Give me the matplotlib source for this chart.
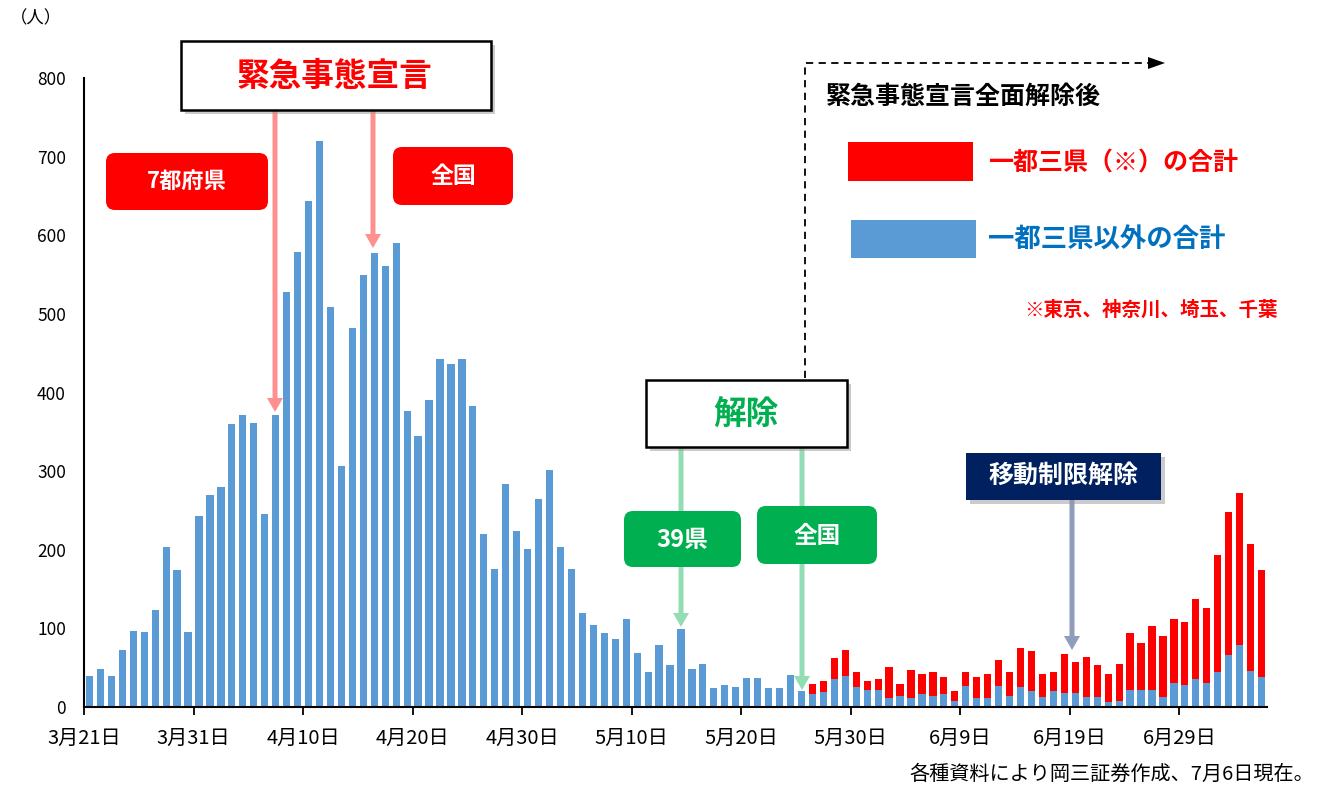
import numpy as np
import matplotlib
matplotlib.use("Agg")
import matplotlib.pyplot as plt
from matplotlib.patches import Rectangle, FancyBboxPatch, FancyArrow

plt.rcParams['font.family'] = ['Noto Sans CJK JP', 'DejaVu Sans']

# 一都三県以外の合計（5/25までは全国の合計）
others = [40, 48, 40, 73, 97, 95, 123, 203, 174, 95,
          243, 269, 280, 360, 371, 361, 245, 371, 528, 579,
          644, 720, 509, 306, 482, 550, 577, 561, 590, 376,
          345, 391, 442, 436, 442, 383, 220, 175, 283, 224,
          201, 265, 302, 203, 175, 119, 104, 94, 86, 112,
          69, 44, 79, 53, 99, 48, 55, 24, 28, 26,
          37, 37, 24, 24, 41, 20, 16, 19, 36, 40,
          25, 22, 22, 11, 14, 11, 16, 14, 16, 7,
          27, 11, 11, 27, 14, 25, 20, 13, 20, 18,
          18, 13, 13, 6, 8, 22, 22, 22, 13, 31,
          28, 35, 31, 44, 66, 79, 46, 38]
# 一都三県の合計（5/26以降）
tokyo_area = [0] * 66 + [13, 14, 26, 33,
              19, 11, 14, 40, 15, 36, 26, 30, 22, 13,
              17, 27, 31, 33, 30, 50, 51, 29, 24, 50,
              39, 50, 40, 36, 47, 72, 59, 81, 77, 81,
              80, 102, 95, 149, 182, 193, 161, 136]
tick_days = [0, 10, 20, 30, 40, 50, 60, 70, 80, 90, 100]
tick_labels = ['3月21日', '3月31日', '4月10日', '4月20日', '4月30日', '5月10日',
               '5月20日', '5月30日', '6月9日', '6月19日', '6月29日']

BLUE = '#5B9BD5'
RED = '#FF0000'
GREEN = '#00B050'
NAVY = '#002060'

W, H = 1322, 789
fig = plt.figure(figsize=(W / 100, H / 100), dpi=100)
ax = fig.add_axes([84 / W, 1 - 707 / H, (1267 - 84) / W, (707 - 78) / H])

x = np.arange(len(others))
ax.bar(x, others, width=0.66, color=BLUE, zorder=2)
ax.bar(x, tokyo_area, bottom=others, width=0.66, color=RED, zorder=2)

ax.set_xlim(-0.5, len(others) - 0.5)
ax.set_ylim(0, 800)
ax.set_yticks(range(0, 801, 100))
ax.tick_params(axis='y', length=0, pad=13, labelsize=12.5)
ax.set_xticks(np.array(tick_days) - 0.5)
ax.set_xticklabels(tick_labels)
ax.tick_params(axis='x', length=6, width=1.3, direction='out', pad=9, labelsize=14.5)
for s in ['top', 'right']:
    ax.spines[s].set_visible(False)
for s in ['left', 'bottom']:
    ax.spines[s].set_linewidth(1.5)

# 注記用のオーバーレイ（ピクセル座標）
ov = fig.add_axes([0, 0, 1, 1])
ov.set_xlim(0, W)
ov.set_ylim(H, 0)
ov.axis('off')
ov.patch.set_alpha(0)


def box(x0, y0, x1, y1, fc, ec=None, rounded=False, shadow=False):
    if shadow:
        ov.add_patch(Rectangle((x0 + 4, y0 + 4), x1 - x0, y1 - y0, fc='#999999',
                               ec='none', alpha=0.5, zorder=3))
    if rounded:
        p = FancyBboxPatch((x0, y0), x1 - x0, y1 - y0,
                           boxstyle='round,pad=0,rounding_size=9', fc=fc, ec='none', zorder=4)
    else:
        p = Rectangle((x0, y0), x1 - x0, y1 - y0, fc=fc, ec=ec or 'none', lw=1.8, zorder=4)
    ov.add_patch(p)


def arrow(xa, y0, y1, color):
    ov.add_patch(FancyArrow(xa, y0, 0, y1 - y0, width=5, head_width=16, head_length=14,
                            length_includes_head=True, color=color, lw=0, zorder=2))


# 緊急事態宣言
arrow(275, 110, 412, '#FF9090')
arrow(373, 110, 248, '#FF9090')
box(181, 41, 491, 110, 'white', ec='black', shadow=True)
ov.text(335, 76, '緊急事態宣言', color=RED, fontsize=23.5, fontweight='bold',
        ha='center', va='center', zorder=5)
box(106, 153, 268, 210, RED, rounded=True)
ov.text(187, 181, '7都府県', color='white', fontsize=16, fontweight='bold',
        ha='center', va='center', zorder=5)
box(393, 147, 513, 205, RED, rounded=True)
ov.text(453, 176, '全国', color='white', fontsize=16.5, fontweight='bold',
        ha='center', va='center', zorder=5)

# 解除
arrow(681, 447, 627, '#93DDB5')
arrow(802, 447, 690, '#93DDB5')
box(646, 380, 847, 447, 'white', ec='black', shadow=True)
ov.text(746, 414, '解除', color=GREEN, fontsize=23.5, fontweight='bold',
        ha='center', va='center', zorder=5)
box(624, 511, 741, 567, GREEN, rounded=True)
ov.text(682, 540, '39県', color='white', fontsize=17, fontweight='bold',
        ha='center', va='center', zorder=5)
box(757, 506, 877, 564, GREEN, rounded=True)
ov.text(817, 536, '全国', color='white', fontsize=17, fontweight='bold',
        ha='center', va='center', zorder=5)

# 移動制限解除
arrow(1072, 500, 650, '#8E9DBC')
box(966, 453, 1161, 500, NAVY, shadow=True)
ov.text(1064, 476, '移動制限解除', color='white', fontsize=18, fontweight='bold',
        ha='center', va='center', zorder=5)

# 全面解除後の範囲
ov.plot([805, 805, 1150], [378, 63, 63], color='black', lw=1.3, ls=(0, (4, 3)), zorder=3)
ov.add_patch(FancyArrow(1148, 63, 17, 0, width=0.1, head_width=12, head_length=17,
                        length_includes_head=True, color='black', lw=0, zorder=3))
ov.text(826, 97, '緊急事態宣言全面解除後', color='black', fontsize=18, fontweight='bold',
        ha='left', va='center', zorder=5)

# 凡例
ov.add_patch(Rectangle((848, 142), 125, 39, fc=RED, ec='none'))
ov.add_patch(Rectangle((851, 220), 125, 38, fc=BLUE, ec='none'))
ov.text(988, 163, '一都三県（※）の合計', color=RED, fontsize=18, fontweight='bold',
        ha='left', va='center')
ov.text(988, 240, '一都三県以外の合計', color='#0070C0', fontsize=19, fontweight='bold',
        ha='left', va='center')
ov.text(1278, 310, '※東京、神奈川、埼玉、千葉', color=RED, fontsize=14, fontweight='bold',
        ha='right', va='center')

ov.text(10, 18, '（人）', fontsize=12.5, ha='left', va='center')
ov.text(1314, 774, '各種資料により岡三証券作成、7月6日現在。', fontsize=14.5,
        ha='right', va='center')

fig.savefig('out.png', dpi=100)
